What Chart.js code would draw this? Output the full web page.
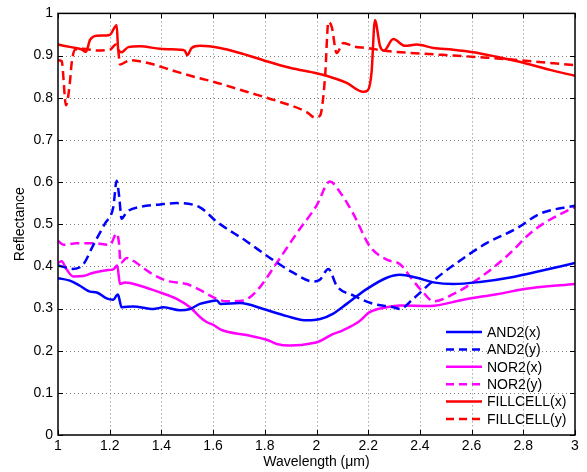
<!DOCTYPE html>
<html>
<head>
<meta charset="utf-8">
<script src="https://cdn.jsdelivr.net/npm/chart.js@4/dist/chart.umd.min.js"></script>
<style>
  html, body { margin: 0; padding: 0; background: #fff; }
  #wrap { width: 587px; height: 472px; }
</style>
</head>
<body>
<div id="wrap"><canvas id="myChart" width="587" height="472"></canvas></div>
<script>
// tick labels
const xTicks = [1, 1.2, 1.4, 1.6, 1.8, 2, 2.2, 2.4, 2.6, 2.8, 3];
const yTicks = [0, 0.1, 0.2, 0.3, 0.4, 0.5, 0.6, 0.7, 0.8, 0.9, 1];

// AND2(x)
const and2xWl = [1.0, 1.046, 1.085, 1.124, 1.15, 1.188, 1.214, 1.227, 1.232, 1.246, 1.291, 1.369, 1.408, 1.472, 1.511, 1.549, 1.575, 1.614, 1.629, 1.704, 1.794, 1.885, 1.962, 2.014, 2.065, 2.117, 2.194, 2.272, 2.323, 2.388, 2.452, 2.529, 2.632, 2.761, 2.852, 3.0];
const and2xR  = [0.372, 0.366, 0.354, 0.340, 0.338, 0.324, 0.321, 0.331, 0.333, 0.303, 0.305, 0.299, 0.303, 0.296, 0.299, 0.311, 0.315, 0.319, 0.311, 0.313, 0.299, 0.282, 0.272, 0.275, 0.288, 0.311, 0.346, 0.373, 0.380, 0.373, 0.362, 0.358, 0.363, 0.375, 0.387, 0.408];

// AND2(y)
const and2yWl = [1.0, 1.059, 1.098, 1.137, 1.182, 1.214, 1.227, 1.237, 1.246, 1.266, 1.317, 1.395, 1.459, 1.549, 1.614, 1.730, 1.820, 1.910, 1.988, 2.014, 2.046, 2.078, 2.142, 2.220, 2.297, 2.323, 2.374, 2.452, 2.542, 2.658, 2.774, 2.865, 3.0];
const and2yR  = [0.402, 0.394, 0.405, 0.451, 0.502, 0.541, 0.603, 0.564, 0.513, 0.529, 0.541, 0.547, 0.550, 0.540, 0.506, 0.459, 0.420, 0.385, 0.364, 0.369, 0.394, 0.354, 0.331, 0.311, 0.303, 0.299, 0.323, 0.366, 0.408, 0.455, 0.490, 0.525, 0.544];

// NOR2(x)
const nor2xWl = [1.0, 1.014, 1.033, 1.059, 1.098, 1.137, 1.188, 1.214, 1.229, 1.240, 1.259, 1.317, 1.395, 1.459, 1.511, 1.549, 1.575, 1.601, 1.633, 1.730, 1.807, 1.846, 1.897, 1.988, 2.014, 2.052, 2.104, 2.162, 2.207, 2.272, 2.323, 2.439, 2.568, 2.697, 2.826, 3.0];
const nor2xR  = [0.408, 0.412, 0.393, 0.376, 0.377, 0.385, 0.391, 0.393, 0.402, 0.358, 0.362, 0.354, 0.338, 0.323, 0.303, 0.280, 0.268, 0.261, 0.249, 0.237, 0.226, 0.216, 0.212, 0.218, 0.223, 0.236, 0.249, 0.268, 0.292, 0.303, 0.307, 0.306, 0.321, 0.334, 0.348, 0.358];

// NOR2(y)
const nor2yWl = [1.0, 1.021, 1.072, 1.137, 1.201, 1.227, 1.236, 1.242, 1.266, 1.304, 1.356, 1.420, 1.498, 1.549, 1.614, 1.653, 1.717, 1.769, 1.846, 1.923, 2.0, 2.052, 2.091, 2.142, 2.207, 2.272, 2.323, 2.374, 2.413, 2.452, 2.529, 2.632, 2.736, 2.826, 2.890, 3.0];
const nor2yR  = [0.461, 0.451, 0.455, 0.455, 0.451, 0.478, 0.455, 0.408, 0.420, 0.408, 0.385, 0.366, 0.358, 0.344, 0.323, 0.317, 0.319, 0.342, 0.408, 0.478, 0.544, 0.601, 0.576, 0.525, 0.447, 0.416, 0.405, 0.366, 0.338, 0.317, 0.334, 0.373, 0.424, 0.478, 0.506, 0.541];

// FILLCELL(x)
const fillxWl = [1.0, 1.05, 1.09, 1.108, 1.124, 1.15, 1.20, 1.227, 1.233, 1.246, 1.272, 1.317, 1.395, 1.472, 1.49, 1.50, 1.517, 1.549, 1.627, 1.704, 1.794, 1.897, 2.0, 2.039, 2.117, 2.181, 2.198, 2.213, 2.226, 2.246, 2.261, 2.297, 2.342, 2.388, 2.452, 2.529, 2.607, 2.697, 2.8, 2.903, 3.0];
const fillxR  = [0.926, 0.920, 0.915, 0.909, 0.937, 0.947, 0.949, 0.972, 0.914, 0.908, 0.920, 0.922, 0.916, 0.914, 0.912, 0.901, 0.918, 0.923, 0.918, 0.906, 0.889, 0.871, 0.858, 0.852, 0.835, 0.814, 0.817, 0.860, 0.984, 0.922, 0.912, 0.939, 0.923, 0.926, 0.918, 0.914, 0.908, 0.897, 0.883, 0.866, 0.852];

// FILLCELL(y)
const fillyWl = [1.0, 1.014, 1.031, 1.046, 1.053, 1.066, 1.098, 1.15, 1.201, 1.224, 1.232, 1.240, 1.279, 1.356, 1.446, 1.549, 1.601, 1.730, 1.859, 1.962, 1.994, 2.014, 2.033, 2.046, 2.059, 2.078, 2.104, 2.142, 2.194, 2.284, 2.400, 2.529, 2.658, 2.787, 3.0];
const fillyR  = [0.889, 0.887, 0.782, 0.836, 0.883, 0.914, 0.916, 0.912, 0.914, 0.926, 0.918, 0.879, 0.889, 0.881, 0.864, 0.846, 0.838, 0.814, 0.790, 0.766, 0.753, 0.758, 0.848, 0.980, 0.968, 0.906, 0.930, 0.922, 0.918, 0.910, 0.905, 0.900, 0.895, 0.889, 0.877];

const pts = (xs, ys) => xs.map((x, i) => ({ x: x, y: ys[i] }));
const DASH = [9, 5];
const FONT = '"Liberation Sans", Arial, sans-serif';

function series(label, xs, ys, color, dashed) {
    return {
        label: label,
        data: pts(xs, ys),
        borderColor: color,
        backgroundColor: color,
        borderWidth: 2.5,
        borderDash: dashed ? DASH : [],
        pointRadius: 0,
        cubicInterpolationMode: 'monotone',
        fill: false
    };
}

// dotted grid, frame, inward ticks and the legend inside the plot
const matlabLook = {
    id: 'matlabLook',
    beforeDatasetsDraw(chart) {
        const c = chart.ctx;
        const a = chart.chartArea;
        const xs = chart.scales.x, ys = chart.scales.y;
        c.save();
        c.strokeStyle = '#808080';
        c.lineWidth = 1;
        c.setLineDash([1, 3]);
        c.beginPath();
        xTicks.slice(1, -1).forEach(v => {
            const px = Math.round(xs.getPixelForValue(v)) + 0.5;
            c.moveTo(px, a.top); c.lineTo(px, a.bottom);
        });
        yTicks.slice(1, -1).forEach(v => {
            const py = Math.round(ys.getPixelForValue(v)) + 0.5;
            c.moveTo(a.left, py); c.lineTo(a.right, py);
        });
        c.stroke();
        c.restore();
    },
    afterDatasetsDraw(chart) {
        const c = chart.ctx;
        const a = chart.chartArea;
        const xs = chart.scales.x, ys = chart.scales.y;
        c.save();
        c.strokeStyle = '#000';
        c.lineWidth = 1.5;
        c.setLineDash([]);
        c.strokeRect(a.left, a.top, a.right - a.left, a.bottom - a.top);
        c.lineWidth = 1;
        c.beginPath();
        xTicks.forEach(v => {
            const px = Math.round(xs.getPixelForValue(v)) + 0.5;
            c.moveTo(px, a.bottom); c.lineTo(px, a.bottom - 5);
            c.moveTo(px, a.top); c.lineTo(px, a.top + 5);
        });
        yTicks.forEach(v => {
            const py = Math.round(ys.getPixelForValue(v)) + 0.5;
            c.moveTo(a.left, py); c.lineTo(a.left + 5, py);
            c.moveTo(a.right, py); c.lineTo(a.right - 5, py);
        });
        c.stroke();

        // legend
        c.font = '14px ' + FONT;
        c.textBaseline = 'middle';
        c.textAlign = 'left';
        chart.data.datasets.forEach((ds, i) => {
            const y = 332 + i * 17.4;
            c.strokeStyle = ds.borderColor;
            c.lineWidth = 2.5;
            c.setLineDash(ds.borderDash.length ? [8, 5] : []);
            c.beginPath();
            c.moveTo(446, y); c.lineTo(482, y);
            c.stroke();
            c.fillStyle = '#000';
            c.fillText(ds.label, 487, y + 1);
        });
        c.restore();
    }
};

const ctx = document.getElementById('myChart').getContext('2d');
const myChart = new Chart(ctx, {
    type: 'line',
    data: {
        datasets: [
            series('AND2(x)', and2xWl, and2xR, '#0000ff', false),
            series('AND2(y)', and2yWl, and2yR, '#0000ff', true),
            series('NOR2(x)', nor2xWl, nor2xR, '#ff00ff', false),
            series('NOR2(y)', nor2yWl, nor2yR, '#ff00ff', true),
            series('FILLCELL(x)', fillxWl, fillxR, '#ff0000', false),
            series('FILLCELL(y)', fillyWl, fillyR, '#ff0000', true)
        ]
    },
    options: {
        responsive: false,
        animation: false,
        layout: { padding: { left: 0, right: 12, top: 6, bottom: 0 } },
        plugins: {
            legend: { display: false },
            tooltip: { enabled: false }
        },
        scales: {
            x: {
                type: 'linear',
                min: 1, max: 3,
                afterBuildTicks: s => { s.ticks = xTicks.map(v => ({ value: v })); },
                afterFit: s => { s.height = 37; },
                ticks: {
                    padding: 3,
                    color: '#000',
                    font: { family: FONT, size: 14 },
                    callback: v => String(v),
                    maxRotation: 0
                },
                grid: { display: false, drawTicks: false },
                border: { display: false },
                title: {
                    display: true,
                    text: 'Wavelength (\u03bcm)',
                    color: '#000',
                    font: { family: FONT, size: 14 },
                    padding: { top: 0, bottom: 1 }
                }
            },
            y: {
                min: 0, max: 1,
                afterBuildTicks: s => { s.ticks = yTicks.map(v => ({ value: v })); },
                afterFit: s => { s.width = 58; },
                ticks: {
                    padding: 5,
                    color: '#000',
                    font: { family: FONT, size: 14 },
                    callback: v => String(v)
                },
                grid: { display: false, drawTicks: false },
                border: { display: false },
                title: {
                    display: true,
                    text: 'Reflectance',
                    color: '#000',
                    font: { family: FONT, size: 14 },
                    padding: { top: 12, bottom: 0 }
                }
            }
        }
    },
    plugins: [matlabLook]
});
</script>
</body>
</html>
